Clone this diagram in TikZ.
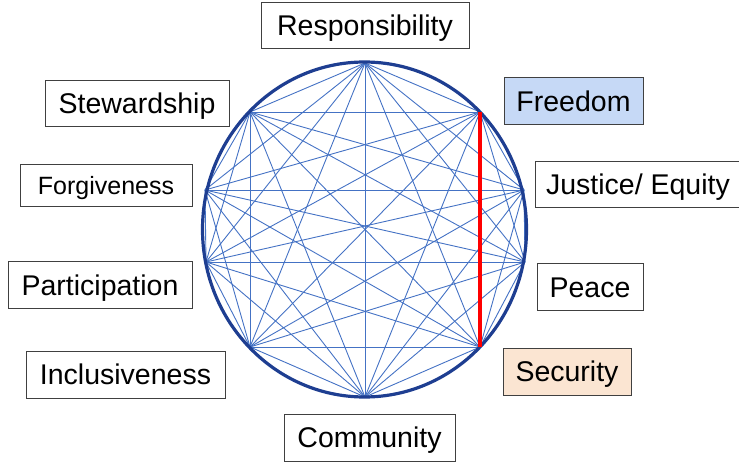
\documentclass[tikz,border=0pt]{standalone}
\usepackage{fontspec}
\setmainfont{Liberation Sans}
\definecolor{chordblue}{RGB}{68,114,196}
\definecolor{ringblue}{RGB}{30,62,145}
\definecolor{freefill}{RGB}{198,217,246}
\definecolor{secfill}{RGB}{251,229,210}
\definecolor{boxline}{RGB}{64,64,64}
\begin{document}
\begin{tikzpicture}[x=1pt,y=-1pt,
  lbl/.style={draw=boxline,line width=1pt,fill=white,inner sep=0pt,
    text height=26pt,text depth=6pt,
    minimum height=47pt,font=\fontsize{28.5}{30}\selectfont},
  chord/.style={draw=chordblue,line width=0.9pt},
  ring/.style={draw=ringblue,line width=3.2pt},
  hot/.style={draw=red,line width=3.4pt}]
\useasboundingbox (0,0) rectangle (739,462);
% vertices
\coordinate (vR)  at (365,63);
\coordinate (vF)  at (480,112);
\coordinate (vJ)  at (524,190);
\coordinate (vP)  at (525,262);
\coordinate (vS)  at (480,347);
\coordinate (vC)  at (365,397);
\coordinate (vI)  at (250,347);
\coordinate (vPa) at (206,262);
\coordinate (vFo) at (205,190);
\coordinate (vSt) at (250,112);
% chords (complete graph)
\foreach \a [count=\i] in {R,F,J,P,S,C,I,Pa,Fo,St}{
  \foreach \b [count=\j] in {R,F,J,P,S,C,I,Pa,Fo,St}{
    \ifnum\j>\i \draw[chord] (v\a) -- (v\b); \fi
  }
}
\draw[ring] (364.5,229.5) ellipse [x radius=162pt, y radius=167.5pt];
\draw[hot] (vF) -- (vS);
% labels
\node[lbl,minimum width=208pt,minimum height=46pt] (resp) at (365,26) {Responsibility};
\node[lbl,fill=freefill,minimum width=139pt] (free) at (573.5,101.5) {Freedom};
\node[lbl,minimum width=206pt,minimum height=46pt] (just) at (638,185) {Justice/ Equity};
\node[lbl,minimum width=106pt] (peace) at (590,287.5) {Peace};
\node[lbl,fill=secfill,minimum width=128pt] (sec) at (567,371.5) {Security};
\node[lbl,minimum width=171pt] (comm) at (369.5,437.5) {Community};
\node[lbl,minimum width=199pt] (incl) at (125.5,374.5) {Inclusiveness};
\node[lbl,minimum width=184pt] (part) at (100,285.5) {Participation};
\node[lbl,minimum width=172pt,minimum height=42pt,text height=24pt,text depth=6pt,font=\fontsize{25}{27}\selectfont] (forg) at (106,186) {Forgiveness};
\node[lbl,minimum width=184pt,minimum height=46pt] (stew) at (137,104) {Stewardship};
\end{tikzpicture}
\end{document}
